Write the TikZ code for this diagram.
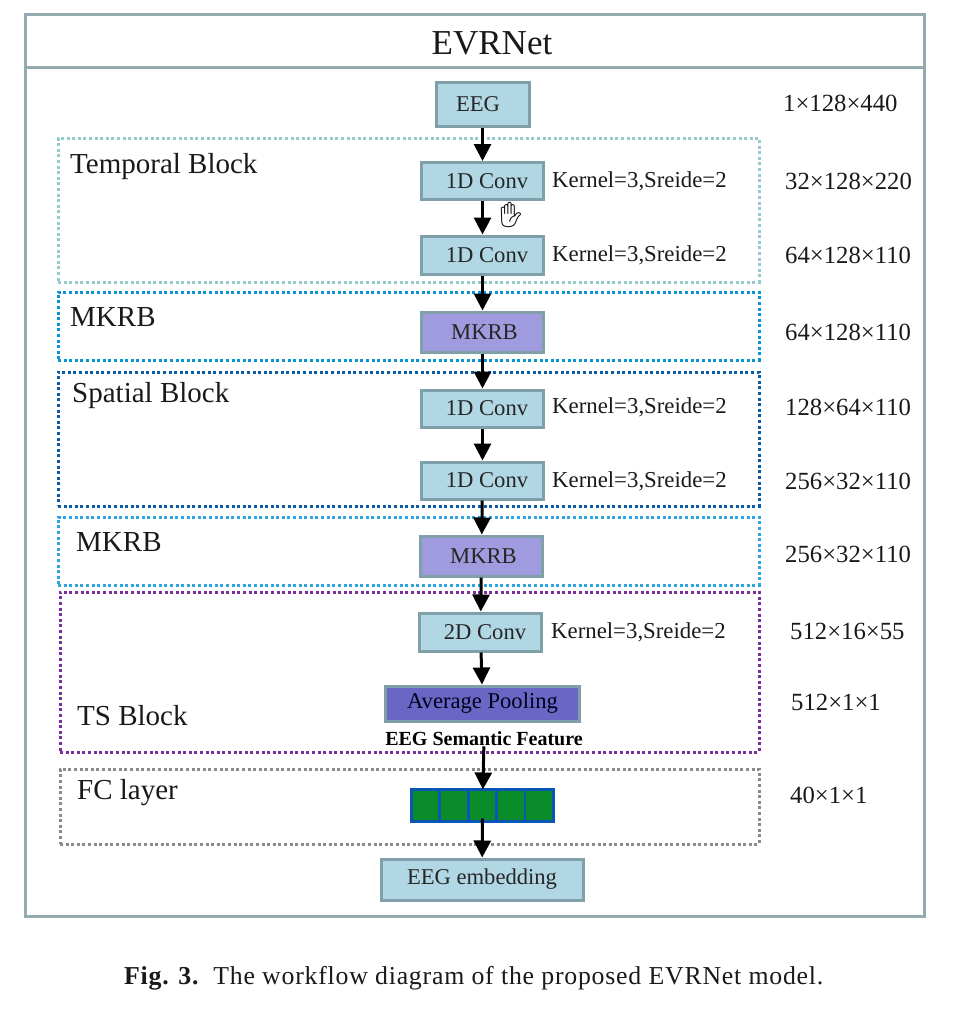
\documentclass[tikz,border=0pt]{standalone}
\usepackage{fontspec}
\setmainfont{Liberation Serif}
\newfontfamily\emojifont{Noto Emoji}
\newfontfamily\capfont[LetterSpace=3]{Liberation Serif}
\usetikzlibrary{arrows.meta}
\definecolor{frameC}{HTML}{94ABAF}
\definecolor{boxfill}{HTML}{B0D7E3}
\definecolor{boxedge}{HTML}{7F9FA9}
\definecolor{mkrbfill}{HTML}{A09BDF}
\definecolor{poolfill}{HTML}{6A66C6}
\definecolor{greenC}{HTML}{0A8C2A}
\definecolor{blueC}{HTML}{0A55B5}
\tikzset{
 x=1pt,y=-1pt,
 blk/.style={draw=boxedge,line width=3pt,fill=boxfill,inner sep=0pt,outer sep=1.5pt,font=\fontsize{22.6}{26}\selectfont,text=black!85},
 mkrbblk/.style={blk,fill=mkrbfill},
 poolblk/.style={blk,fill=poolfill,text=black!90!blue},
 cell/.style={draw=blueC,line width=2.6pt,fill=greenC,minimum width=28.4pt,minimum height=32pt,inner sep=0pt,outer sep=0pt},
 region/.style={line width=3pt,dash pattern=on 3pt off 2.6pt},
 ttl/.style={anchor=west,font=\fontsize{29}{32}\selectfont,text=black!90,inner sep=0pt},
 param/.style={anchor=west,font=\fontsize{22.8}{26}\selectfont,text=black!90,inner sep=0pt},
 dims/.style={anchor=west,font=\fontsize{24.7}{28}\selectfont,text=black!90,inner sep=0pt},
 flow/.style={line width=3pt,-{Triangle[width=17pt,length=17pt]},black},
}
\newcommand{\bx}[7]{\node[#1,minimum width=#4pt,minimum height=#5pt] (#2) at (#6,#7) {#3};}
\begin{document}
\begin{tikzpicture}
\useasboundingbox (0,0) rectangle (974,1009);
% frame
\node[draw=frameC,line width=3pt,minimum width=899pt,minimum height=902pt,inner sep=0pt] (outer) at (474.5,465) {};
\coordinate (hl) at (25,67);
\coordinate (hr) at (924,67);
\draw[frameC,line width=3pt] (hl) -- (hr);
\node[font=\fontsize{35}{40}\selectfont,text=black!90,inner sep=0pt] (title) at (492,43) {EVRNet};
% regions
\definecolor{r1}{HTML}{94CBD3}\definecolor{r2}{HTML}{0B93D8}\definecolor{r3}{HTML}{0A5CA8}\definecolor{r4}{HTML}{2BA6E3}\definecolor{r5}{HTML}{7A2F9E}\definecolor{r6}{HTML}{8A8A8A}
\node[draw=r1,region,minimum width=701pt,minimum height=144pt,inner sep=0pt] (temporal) at (408.5,210) {};
\node[draw=r2,region,minimum width=701pt,minimum height=68pt,inner sep=0pt] (mk1) at (408.5,326) {};
\node[draw=r3,region,minimum width=701pt,minimum height=134pt,inner sep=0pt] (spatial) at (408.5,439) {};
\node[draw=r4,region,minimum width=701pt,minimum height=68pt,inner sep=0pt] (mk2) at (408.5,551) {};
\node[draw=r5,region,minimum width=699pt,minimum height=160pt,inner sep=0pt] (ts) at (409.5,672) {};
\node[draw=r6,region,minimum width=699pt,minimum height=75pt,inner sep=0pt] (fc) at (409.5,806.5) {};
\node[ttl] (t1) at (70,167) {Temporal Block};
\node[ttl] (t2) at (70,317) {MKRB};
\node[ttl] (t3) at (72,396) {Spatial Block};
\node[ttl] (t4) at (76,542) {MKRB};
\node[ttl] (t5) at (77,716) {TS Block};
\node[ttl] (t6) at (77,793) {FC layer};
% blocks
\bx{blk}{eeg}{\hspace*{-9pt}EEG}{93}{44}{482.5}{104}
\bx{blk}{c1}{\hspace*{9pt}1D Conv}{122}{37}{482.5}{181}
\bx{blk}{c2}{\hspace*{9pt}1D Conv}{122}{38}{482.5}{255}
\bx{mkrbblk}{m1}{\hspace*{4pt}MKRB}{122}{40}{482.5}{332}
\bx{blk}{c3}{\hspace*{9pt}1D Conv}{122}{37}{482.5}{408.5}
\bx{blk}{c4}{\hspace*{9pt}1D Conv}{122}{37}{482.5}{480.5}
\bx{mkrbblk}{m2}{\hspace*{4pt}MKRB}{122}{40}{481.5}{556}
\bx{blk}{c5}{\hspace*{9pt}2D Conv}{122}{38}{480.5}{632}
\bx{poolblk}{pool}{Average Pooling}{194}{35}{482.5}{703.5}
\node[font=\fontsize{20}{22}\selectfont\bfseries,text=black,inner sep=0pt] (sem) at (484,739) {EEG Semantic Feature};
% fc cells
\node[cell] (g1) at (425.5,805.5) {};
\node[cell] (g2) at (454,805.5) {};
\node[cell] (g3) at (482.5,805.5) {};
\node[cell] (g4) at (511,805.5) {};
\node[cell] (g5) at (539,805.5) {};
\bx{blk}{emb}{EEG embedding}{202}{41}{482}{879.5}
% params
\node[param] (p1) at (552,181) {Kernel=3,Sreide=2};
\node[param] (p2) at (552,255) {Kernel=3,Sreide=2};
\node[param] (p3) at (552,407) {Kernel=3,Sreide=2};
\node[param] (p4) at (552,481) {Kernel=3,Sreide=2};
\node[param] (p5) at (551,632) {Kernel=3,Sreide=2};
% dims
\node[dims] (d1) at (783,103) {1×128×440};
\node[dims] (d2) at (785,181) {32×128×220};
\node[dims] (d3) at (785,255) {64×128×110};
\node[dims] (d4) at (785,332) {64×128×110};
\node[dims] (d5) at (785,407) {128×64×110};
\node[dims] (d6) at (785,481) {256×32×110};
\node[dims] (d7) at (785,554) {256×32×110};
\node[dims] (d8) at (790,631) {512×16×55};
\node[dims] (d9) at (791,702) {512×1×1};
\node[dims] (d10) at (790,795) {40×1×1};
% connectors
\draw[flow] (eeg) -- (c1);
\draw[flow] (c1) -- (c2);
\draw[flow] (c2) -- (m1);
\draw[flow] (m1) -- (c3);
\draw[flow] (c3) -- (c4);
\draw[flow] (c4) -- (m2);
\draw[flow] (m2) -- (c5);
\draw[flow] (c5) -- (pool);
\draw[flow] (sem) -- (g3);
\draw[flow] (g3.south) ++(0,-3) coordinate (gout) (gout) -- (emb);
% hand cursor
\node[font=\emojifont\fontsize{25}{26}\selectfont,inner sep=0pt] (hand) at (511,215) {✋};
% caption
\node[anchor=west,font=\capfont\fontsize{25.8}{28}\selectfont,text=black!90,inner sep=0pt] (cap) at (124,978) {\textbf{Fig. 3.}\hspace{14pt}The workflow diagram of the proposed EVRNet model.};
\end{tikzpicture}
\end{document}
